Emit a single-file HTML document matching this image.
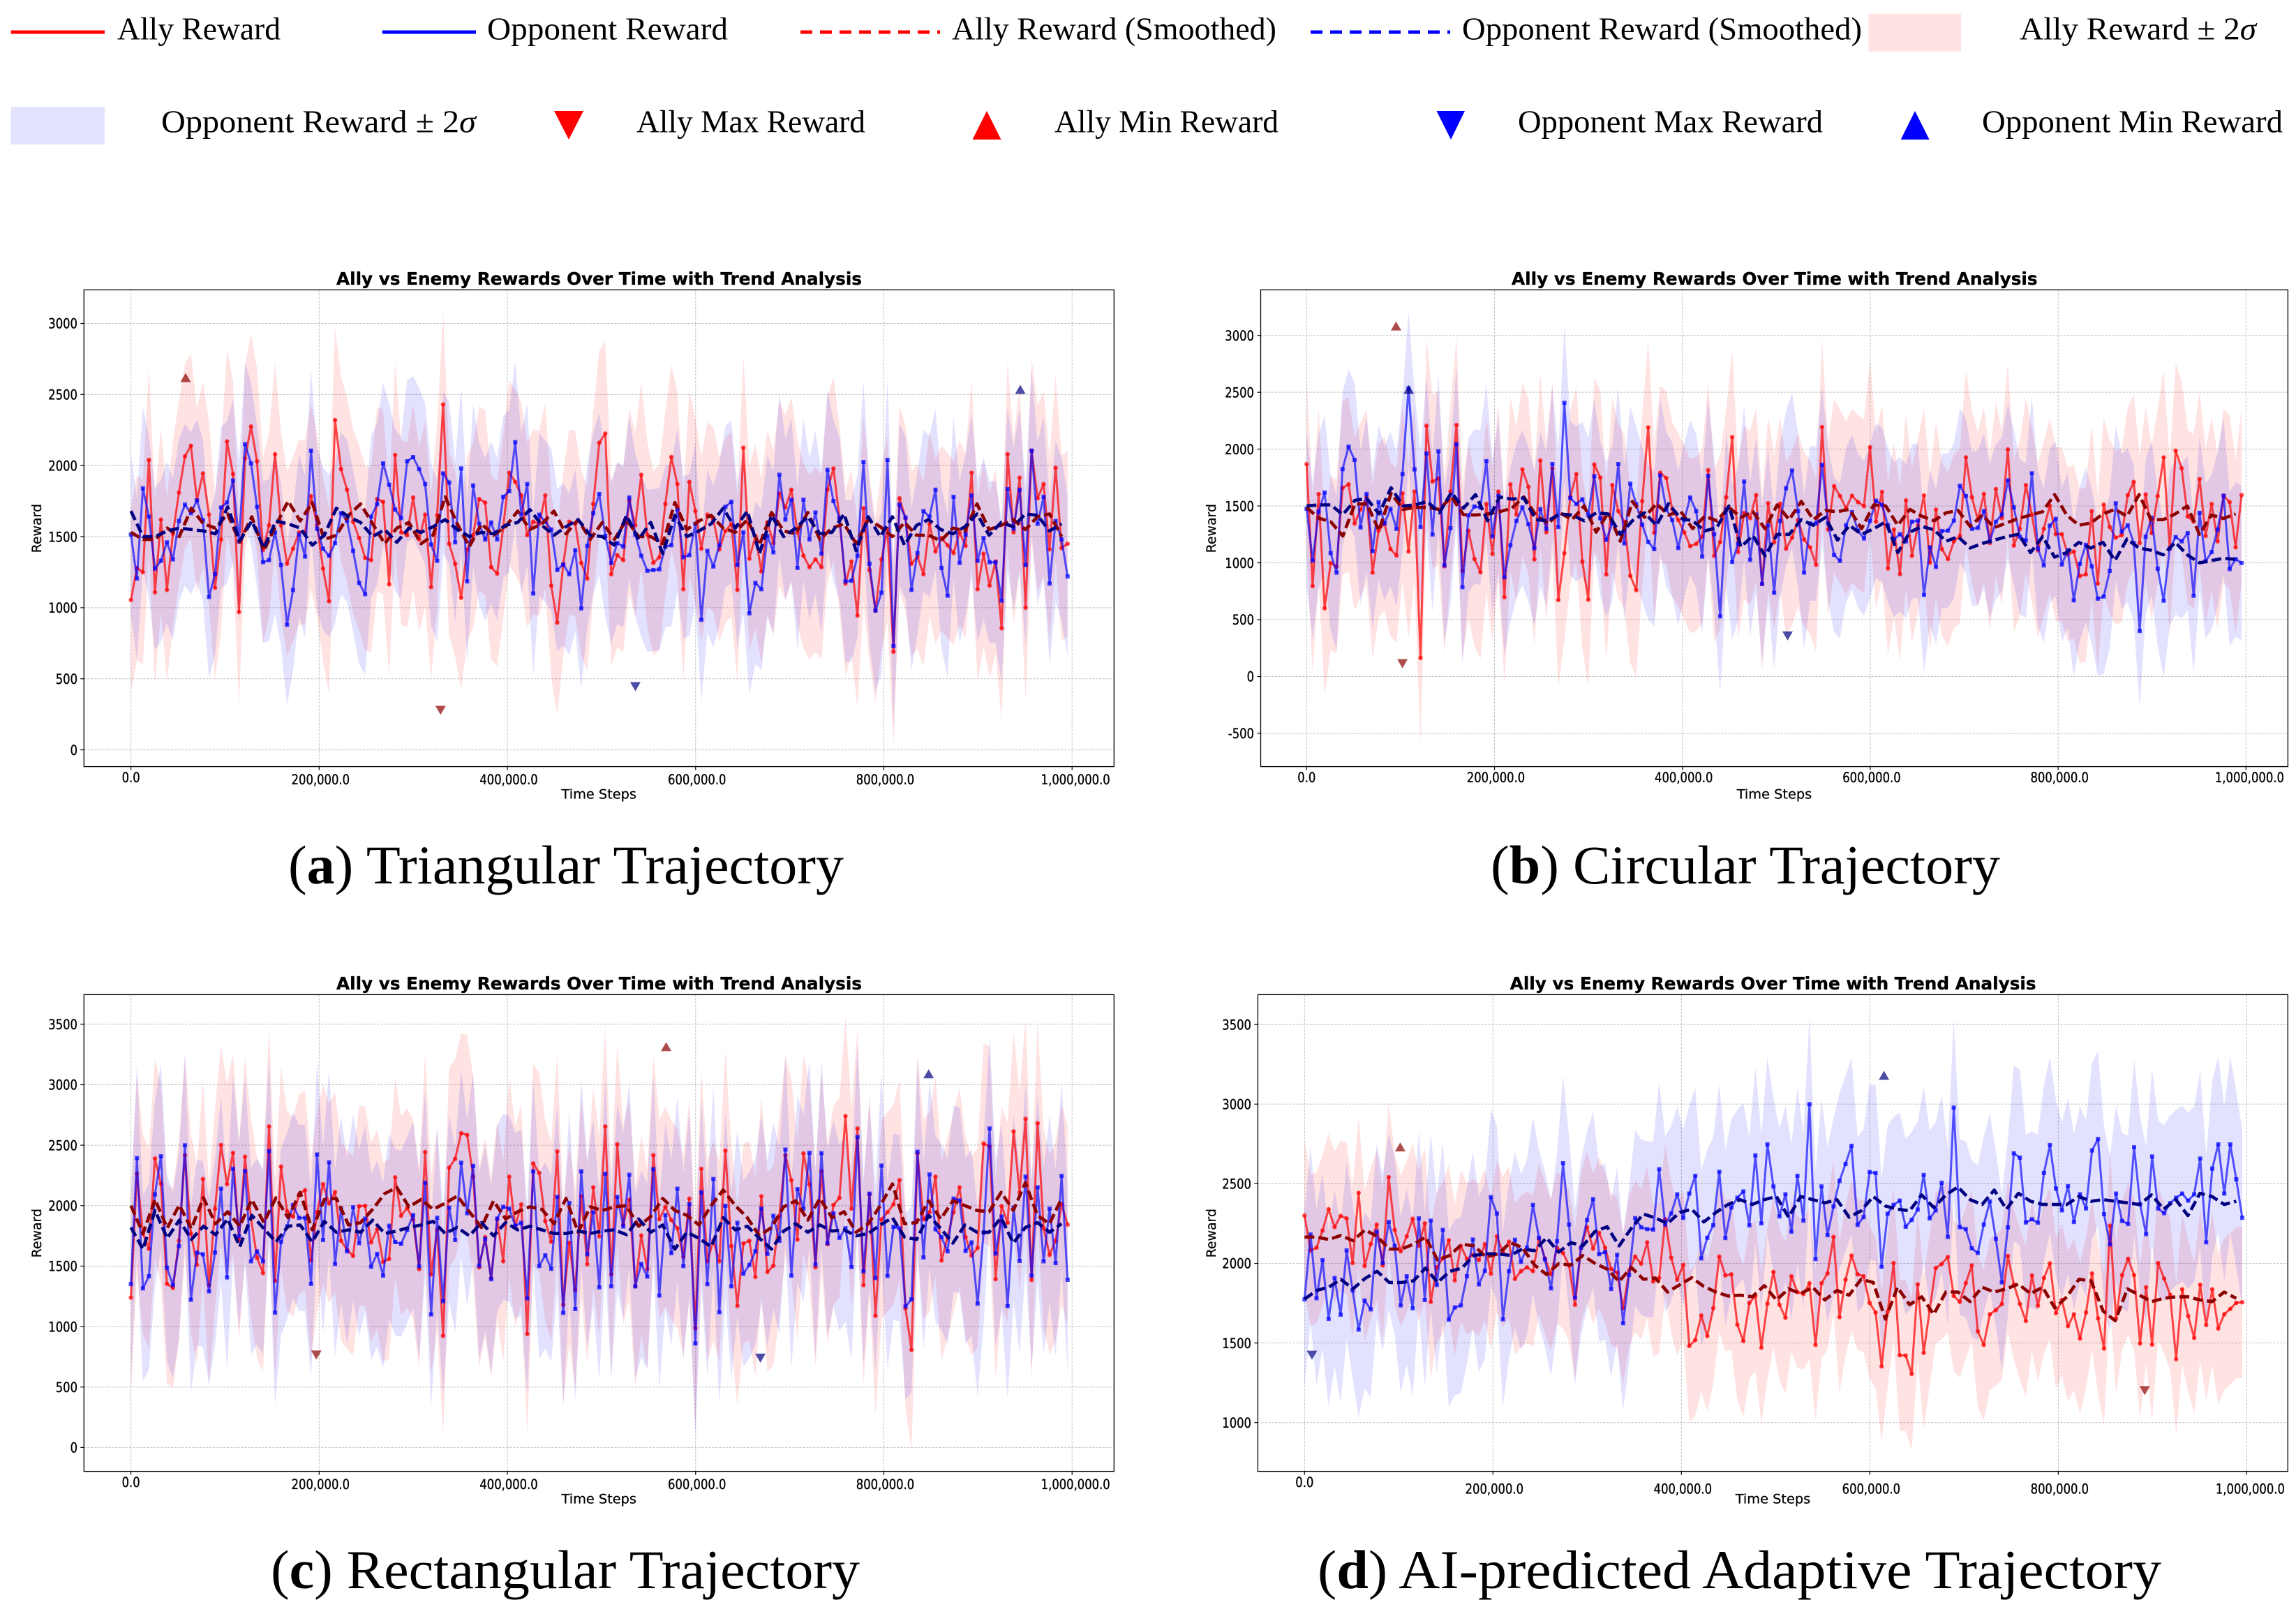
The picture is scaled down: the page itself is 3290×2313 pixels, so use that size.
<!DOCTYPE html>
<html lang="en">
<head>
<meta charset="utf-8">
<title>Ally vs Enemy Rewards Over Time with Trend Analysis</title>
<style>
html,body{margin:0;padding:0;background:#fff;width:3290px;height:2313px;overflow:hidden}
svg{display:block}
.lg{font-family:"Liberation Serif",serif;font-size:45px;fill:#000}
.cap{font-family:"Liberation Serif",serif;font-size:78px;fill:#000}
.ttl{font-family:"DejaVu Sans",sans-serif;font-weight:bold;font-size:21px;fill:#000;stroke:#000;stroke-width:.3px}
.axl{font-family:"DejaVu Sans",sans-serif;font-size:19px;fill:#000;stroke:#000;stroke-width:.25px}
.tk{font-family:"DejaVu Sans",sans-serif;font-size:16.4px;fill:#000;stroke:#000;stroke-width:.3px}
</style>
</head>
<body>
<svg id="figure" xmlns="http://www.w3.org/2000/svg" width="3290" height="2313" viewBox="0 0 3290 2313">
<rect x="0" y="0" width="3290" height="2313" fill="#fff"/>
<g>
<line x1="15.7" y1="46" x2="150" y2="46" stroke="#f00" stroke-width="5"/>
<text class="lg" x="168" y="56.7" textLength="234" lengthAdjust="spacingAndGlyphs">Ally Reward</text>
<line x1="547.7" y1="46" x2="682" y2="46" stroke="#00f" stroke-width="5"/>
<text class="lg" x="698" y="56.7" textLength="345" lengthAdjust="spacingAndGlyphs">Opponent Reward</text>
<line x1="1147" y1="46" x2="1347" y2="46" stroke="#f00" stroke-width="5" stroke-dasharray="17 11"/>
<text class="lg" x="1364" y="56.7" textLength="465" lengthAdjust="spacingAndGlyphs">Ally Reward (Smoothed)</text>
<line x1="1878" y1="46" x2="2078" y2="46" stroke="#00f" stroke-width="5" stroke-dasharray="17 11"/>
<text class="lg" x="2095" y="56.7" textLength="573" lengthAdjust="spacingAndGlyphs">Opponent Reward (Smoothed)</text>
<rect x="2677.5" y="20" width="132.5" height="53.7" fill="#ffe2e2"/>
<text class="lg" x="2894" y="56.7" textLength="339" lengthAdjust="spacingAndGlyphs">Ally Reward ± 2<tspan font-style="italic">σ</tspan></text>
<rect x="15.7" y="153" width="134.3" height="54" fill="#e3e3fe"/>
<text class="lg" x="231" y="189.5" textLength="451" lengthAdjust="spacingAndGlyphs">Opponent Reward ± 2<tspan font-style="italic">σ</tspan></text>
<polygon points="794,159 836,159 815,200" fill="#f00"/>
<text class="lg" x="912" y="189.5" textLength="328" lengthAdjust="spacingAndGlyphs">Ally Max Reward</text>
<polygon points="1393.5,200 1434.5,200 1414,159" fill="#f00"/>
<text class="lg" x="1511" y="189.5" textLength="321" lengthAdjust="spacingAndGlyphs">Ally Min Reward</text>
<polygon points="2058.5,159 2099,159 2079,200" fill="#00f"/>
<text class="lg" x="2175" y="189.5" textLength="437" lengthAdjust="spacingAndGlyphs">Opponent Max Reward</text>
<polygon points="2723.7,200 2764.6,200 2744,159" fill="#00f"/>
<text class="lg" x="2840" y="189.5" textLength="431" lengthAdjust="spacingAndGlyphs">Opponent Min Reward</text>
</g>

<g id="panel-a">
<text class="ttl" transform="translate(482,408) scale(1,1.18)" textLength="753" lengthAdjust="spacingAndGlyphs">Ally vs Enemy Rewards Over Time with Trend Analysis</text>
<text class="axl" transform="translate(804.5,1144.5)" textLength="107.5" lengthAdjust="spacingAndGlyphs">Time Steps</text>
<text class="axl" transform="translate(59,792.4) rotate(-90)" textLength="70.4" lengthAdjust="spacingAndGlyphs">Reward</text>
</g>
<g id="panel-b">
<text class="ttl" transform="translate(2166,408) scale(1,1.18)" textLength="753.6" lengthAdjust="spacingAndGlyphs">Ally vs Enemy Rewards Over Time with Trend Analysis</text>
<text class="axl" transform="translate(2488.7,1144.5)" textLength="107.5" lengthAdjust="spacingAndGlyphs">Time Steps</text>
<text class="axl" transform="translate(1742,792.4) rotate(-90)" textLength="70.4" lengthAdjust="spacingAndGlyphs">Reward</text>
</g>
<g id="panel-c">
<text class="ttl" transform="translate(482,1418) scale(1,1.18)" textLength="753" lengthAdjust="spacingAndGlyphs">Ally vs Enemy Rewards Over Time with Trend Analysis</text>
<text class="axl" transform="translate(804.5,2154.5)" textLength="107.5" lengthAdjust="spacingAndGlyphs">Time Steps</text>
<text class="axl" transform="translate(59,1802.4) rotate(-90)" textLength="70.4" lengthAdjust="spacingAndGlyphs">Reward</text>
</g>
<g id="panel-d">
<text class="ttl" transform="translate(2163.7,1418) scale(1,1.18)" textLength="753.9" lengthAdjust="spacingAndGlyphs">Ally vs Enemy Rewards Over Time with Trend Analysis</text>
<text class="axl" transform="translate(2486.7,2154.5)" textLength="107.5" lengthAdjust="spacingAndGlyphs">Time Steps</text>
<text class="axl" transform="translate(1742,1802.4) rotate(-90)" textLength="70.4" lengthAdjust="spacingAndGlyphs">Reward</text>
</g>

<text class="cap" x="413" y="1266" textLength="796" lengthAdjust="spacingAndGlyphs">(<tspan font-weight="bold">a</tspan>) Triangular Trajectory</text>
<text class="cap" x="2136" y="1266" textLength="730" lengthAdjust="spacingAndGlyphs">(<tspan font-weight="bold">b</tspan>) Circular Trajectory</text>
<text class="cap" x="388" y="2276" textLength="844" lengthAdjust="spacingAndGlyphs">(<tspan font-weight="bold">c</tspan>) Rectangular Trajectory</text>
<text class="cap" x="1888" y="2276" textLength="1209" lengthAdjust="spacingAndGlyphs">(<tspan font-weight="bold">d</tspan>) AI-predicted Adaptive Trajectory</text>
</svg>

<script>
// ---------- shared axis data ----------
const stepInterval = 6380;
const xTicks = [0, 200000, 400000, 600000, 800000, 1000000];
const xTickLabels = ['0.0', '200,000.0', '400,000.0', '600,000.0', '800,000.0', '1,000,000.0'];

// ---------- panel (a) Triangular ----------
const panelA_yTicks = [0, 500, 1000, 1500, 2000, 2500, 3000];
const panelA_ally = [
1054,1280,1250,2040,1108,1620,1125,1520,1810,2065,
2140,1755,1945,1655,1140,1480,2170,1940,970,2050,
2275,2030,1405,1580,2080,1580,1310,1415,1530,1530,
1785,1580,1275,1045,2320,1975,1830,1605,1490,1350,
1335,1765,1745,1165,2075,1530,1510,1775,1480,1655,
1145,1650,2430,1450,1310,1070,1410,1510,1765,1740,
1285,1240,1565,1950,1885,1790,1510,1605,1590,1790,
1155,895,1305,1605,1590,1315,1205,1730,2160,2225,
1235,1370,1335,1755,1580,1935,1515,1315,1355,1730,
2060,1870,1130,1885,1680,1415,1655,1620,1410,1540,
1590,1125,2125,1345,1505,1255,1600,1455,1805,1705,
1830,1530,1365,1285,1340,1285,1830,1980,1630,1170,
1325,945,1700,1265,980,1340,1555,690,1770,1630,
1310,1360,1235,1590,1395,1490,1440,1385,1530,1435,
1950,1130,1380,1155,1325,855,2080,1530,1915,1000,
2105,1770,1870,1410,1985,1420,1450];
const panelA_opp = [
1515,1205,1840,1640,1275,1330,1460,1340,1610,1725,
1665,1755,1615,1075,1235,1705,1740,1895,1465,2150,
2015,1710,1320,1335,1530,1300,880,1125,1515,1360,
2105,1555,1415,1365,1455,1665,1610,1400,1175,1095,
1640,1730,2015,1865,1690,1630,2030,2060,1975,1870,
1445,1330,1945,1880,1460,1980,1185,1860,1590,1480,
1600,1480,1780,1820,2165,1655,1870,1100,1655,1605,
1550,1265,1305,1235,1405,995,1435,1665,1800,1505,
1315,1455,1430,1775,1515,1365,1260,1265,1270,1430,
1440,1690,1355,1370,1590,915,1400,1290,1440,1710,
1745,1300,1530,960,1175,1130,1505,1390,1935,1620,
1760,1280,1760,1480,1670,1380,1970,1750,1630,1185,
1190,1365,2025,1310,980,1105,2040,730,1725,1635,
1125,1385,1680,1640,1830,1280,1085,1780,1315,1515,
1790,1330,1490,1320,1320,1050,1835,1555,1830,1300,
2105,1590,1780,1170,1610,1480,1220];
const panelA_allySmooth = [
1530,1480,1480,1560,1500,1700,1590,1560,1660,1460,1640,1400,1580,1750,1610,1740,1480,1510,1650,1730,
1590,1450,1560,1600,1450,1510,1780,1590,1430,1590,1510,1570,1680,1550,1590,1680,1520,1620,1480,1600,
1480,1620,1500,1500,1450,1740,1550,1610,1650,1560,1530,1620,1440,1670,1540,1520,1670,1480,1560,1590,
1450,1620,1570,1500,1600,1510,1510,1470,1560,1540,1730,1550,1580,1620,1550,1640,1660,1500];
const panelA_oppSmooth = [
1680,1500,1500,1540,1560,1550,1540,1520,1710,1470,1610,1420,1610,1590,1560,1440,1510,1700,1640,1600,
1500,1550,1460,1560,1530,1570,1620,1550,1500,1530,1520,1580,1600,1690,1580,1510,1570,1620,1510,1500,
1440,1650,1480,1600,1380,1650,1500,1540,1590,1700,1560,1680,1380,1650,1500,1560,1640,1520,1530,1660,
1400,1640,1500,1640,1440,1580,1620,1550,1520,1570,1660,1510,1600,1570,1660,1650,1540,1590];
const panelA_allyTwoSigma = 650;
const panelA_oppTwoSigma = 570;
const panelA_allyHigh = [58100, 2619];
const panelA_allyLow = [329000, 278];
const panelA_oppHigh = [945000, 2536];
const panelA_oppLow = [536000, 445];

// ---------- panel (b) Circular ----------
const panelB_yTicks = [-500, 0, 500, 1000, 1500, 2000, 2500, 3000];
const panelB_ally = [
1868,795,1605,600,998,967,1659,1690,1345,1470,
1580,914,1283,1345,1120,1064,1612,1100,1627,163,
2206,1715,1743,970,1627,2212,930,1283,1033,917,
1518,1077,1627,698,1690,1424,1822,1668,1030,1900,
1268,1831,673,1083,1581,1781,1011,676,1865,1750,
898,1684,1455,1361,886,760,1543,2191,1264,1793,
1746,1471,1377,1268,1146,1167,1230,1815,1061,1183,
1577,2106,1095,1440,1393,1596,814,1524,1180,1521,
1124,1221,1377,1205,1136,983,2194,1293,1675,1587,
1480,1590,1534,1499,2016,1362,1624,951,1293,901,
1549,1061,1330,1593,1002,1468,1120,1033,1189,1236,
1928,1577,1377,1606,1174,1649,1393,1997,1152,1299,
1684,1424,1111,1299,1502,1252,1252,1074,1099,883,
898,1455,817,1512,1315,1221,1243,1596,1712,1174,
1602,1261,1587,1928,1127,1987,1831,1408,1362,1737,
1236,1518,1189,1590,1534,1136,1596];
const panelB_opp = [
1477,1020,1449,1618,1086,914,1825,2022,1906,1311,
1606,1102,1534,1346,1474,1299,1781,2535,1822,1315,
1963,1249,1981,977,1305,2044,786,1418,1496,1487,
1894,1233,1590,873,1155,1368,1487,1340,1130,1471,
1299,1869,1315,2407,1568,1518,1559,1424,1762,1393,
1202,1346,1869,1171,1696,1515,1336,1183,1120,1768,
1471,1377,1130,1377,1574,1455,1055,1765,1252,529,
1471,1008,1167,1715,1027,1424,814,1330,736,1368,
1656,1812,1455,914,1346,1346,1862,1346,1070,1017,
1330,1446,1283,1214,1368,1546,1509,1330,1205,1252,
1189,1362,1371,717,1136,964,1280,1283,1371,1678,
1587,1299,1308,1455,1189,1362,1424,1725,1487,1230,
1196,1787,1127,977,1327,1387,986,1111,670,992,
1158,970,685,704,930,1524,1274,1330,1174,401,
1230,1396,948,667,1127,1227,1189,1261,711,1440,
1014,1095,1293,1590,945,1033,998];
const panelB_allySmooth = [
1487,1393,1361,1236,1518,1518,1283,1612,1470,1487,1487,1470,1580,1424,1420,1430,1450,1480,1580,1420,
1346,1440,1380,1500,1270,1440,1190,1540,1400,1520,1420,1455,1300,1410,1370,1487,1400,1450,1299,1510,
1380,1540,1380,1460,1450,1470,1300,1510,1500,1330,1470,1410,1370,1440,1460,1320,1420,1310,1350,1390,
1420,1450,1600,1420,1330,1350,1430,1470,1410,1600,1380,1380,1430,1500,1250,1420,1390,1430];
const panelB_oppSmooth = [
1500,1510,1510,1424,1550,1565,1430,1660,1500,1510,1540,1440,1620,1480,1600,1370,1580,1560,1570,1380,
1370,1430,1420,1370,1440,1430,1250,1370,1440,1330,1520,1390,1370,1280,1310,1500,1140,1240,1060,1250,
1250,1380,1330,1400,1200,1330,1250,1300,1360,1090,1270,1320,1290,1190,1230,1130,1170,1200,1230,1250,
1090,1230,1050,1090,1180,1130,1180,1020,1210,1130,1110,1070,1180,1070,1000,1020,1040,1030];
const panelB_allyTwoSigma = 765;
const panelB_oppTwoSigma = 680;
const panelB_allyHigh = [95200, 3083];
const panelB_allyLow = [102000, 113];
const panelB_oppHigh = [108800, 2526];
const panelB_oppLow = [512000, 357];

// ---------- panel (c) Rectangular ----------
const panelC_yTicks = [0, 500, 1000, 1500, 2000, 2500, 3000, 3500];
const panelC_ally = [
1239,2264,1769,1643,2390,2181,1354,1319,1710,2417,
1769,1510,2220,1342,1975,2502,2178,2437,1716,2405,
1893,1569,1442,2655,1378,2323,1955,1908,2093,2128,
1548,1946,2178,2019,2113,1710,1637,1584,1996,1999,
1696,1805,1534,1560,2234,1916,1981,1887,1475,2443,
1431,1799,924,2314,2387,2599,2585,2240,1490,1740,
1401,1887,1540,2240,1828,2011,939,2349,2270,1872,
1701,2449,1180,1693,1304,2078,1516,2152,1746,2655,
1431,2508,1843,2049,1333,1754,1475,2417,1887,1990,
1881,1813,1578,2058,986,2305,1540,1710,1540,2455,
1666,1172,1687,1710,1410,2078,1451,1504,1916,2417,
2211,1719,2432,2175,1490,2284,1681,2005,2064,2741,
1975,2638,1342,2093,1089,1887,1946,2011,2211,1151,
807,2432,1887,1946,2240,1546,1740,1946,2152,1740,
1587,1651,2514,2490,1392,1996,1858,2614,2108,2717,
1386,2682,1813,1593,1710,2011,1843];
const panelC_opp = [
1351,2393,1316,1416,2093,2408,1487,1342,1666,2499,
1222,1613,1598,1292,1613,2140,1407,2305,1746,2287,
1540,1622,1540,2452,1116,1701,1828,2005,1899,1899,
1354,2423,1716,2358,1519,1975,1622,1987,1690,1893,
1495,1601,1422,1834,1699,1684,1799,1922,1498,2190,
1101,1899,1210,1984,1716,2355,1937,2329,1504,1725,
1392,1893,1990,1975,1834,1858,1233,2284,1501,1590,
1478,2072,1113,2022,1145,2284,1598,1946,1325,2264,
1333,2072,1828,2255,1333,1519,1413,2302,1257,1922,
1607,2140,1501,2013,860,2111,1351,2220,1119,1999,
1333,1858,1437,1510,1622,1975,1601,1916,1710,2464,
1422,2137,1975,2437,1513,2434,1690,1937,1734,1813,
1492,2567,1457,2099,1401,2331,1419,1825,1813,1166,
1225,2446,1572,2258,1805,1740,1622,2058,2043,1625,
1696,1189,1778,2638,1604,1910,1169,1984,1543,2240,
1422,2152,1540,1975,1525,2246,1387];
const panelC_allySmooth = [
2000,1770,2050,1815,2005,1810,2065,1850,1950,1830,2050,1860,2065,1900,2110,1800,2050,2060,1840,1860,
1970,2100,2150,1990,2050,1970,2020,2080,1950,1820,2040,1890,1950,1990,1970,1850,2060,1780,1990,1960,
1990,2000,1830,1910,2060,1960,1920,1840,2000,2130,2000,1900,1750,1820,1990,2040,1880,2060,1900,1950,
1780,1850,2000,2180,1850,1860,2040,1890,2040,2000,1960,1950,2110,1960,2190,1920,1850,2060];
const panelC_oppSmooth = [
1820,1640,1960,1730,1880,1720,1830,1760,1890,1660,1920,1810,1700,1830,1840,1700,1870,1780,1800,1780,
1880,1770,1790,1820,1840,1870,1770,1820,1750,1860,1750,1860,1800,1830,1800,1770,1770,1790,1770,1790,
1800,1760,1890,1780,1840,1640,1780,1730,1660,1900,1800,1830,1730,1640,1790,1850,1780,1840,1790,1800,
1750,1770,1840,1900,1740,1720,1920,1810,1690,1840,1780,1780,1900,1690,1820,1860,1780,1850];
const panelC_allyTwoSigma = 825;
const panelC_oppTwoSigma = 770;
const panelC_allyHigh = [568700, 3315];
const panelC_allyLow = [197000, 765];
const panelC_oppHigh = [847600, 3091];
const panelC_oppLow = [668800, 739];

// ---------- panel (d) AI-predicted Adaptive ----------
const panelD_yTicks = [1000, 1500, 2000, 2500, 3000, 3500];
const panelD_ally = [
2300,2081,2098,2206,2340,2228,2298,2282,2002,2443,
1984,2121,2244,1987,2541,2210,2076,2170,2280,2110,
2251,1758,1975,2031,2145,1893,2110,2027,2054,2020,
2121,1935,2170,2072,2136,1902,1951,1975,1951,2154,
2031,1931,2098,2065,1987,1740,2098,2228,2092,2192,
2098,1964,1942,1718,1953,2043,1998,2132,1886,1908,
2277,2036,1897,1991,1481,1519,1673,1544,1718,2043,
1924,1931,1615,1512,1752,1796,1470,1747,1946,1740,
1658,1919,1819,1808,1875,1488,1875,1937,2166,1662,
1897,2049,1931,1919,1752,1691,1353,1696,2002,1423,
1421,1306,1868,1438,1707,1971,1996,2040,1796,1758,
1875,1987,1573,1488,1680,1707,1745,2047,1868,1745,
1638,1924,1734,1908,2000,1687,1770,1606,1680,1528,
1691,1937,1655,1465,2237,1655,1926,2029,1926,1497,
1850,1490,2002,1904,1803,1398,1837,1669,1532,1866,
1613,1837,1591,1680,1714,1752,1756];
const panelD_opp = [
1774,2181,1781,2020,1651,1908,1678,2081,1830,1584,
1767,1711,2199,2002,2260,2110,1736,1919,1718,2282,
1770,2268,1864,2210,1647,1723,1736,1919,2150,1868,
1953,2416,2313,1649,1951,2148,2009,2098,2367,2161,
2025,1843,2139,2629,2244,1785,2098,2273,2403,2058,
2072,1839,2054,1624,1928,2284,2226,2215,2212,2591,
2244,2313,2434,2286,2438,2550,2031,2161,2239,2575,
2159,2351,2412,2452,2239,2678,2251,2747,2483,2295,
2434,2199,2550,2268,3000,2027,2483,2177,2358,2519,
2624,2738,2242,2291,2573,2568,1978,2311,2367,2394,
2230,2273,2338,2555,2282,2333,2506,2166,2978,2228,
2215,2094,2065,2244,2389,2154,1881,2226,2691,2664,
2257,2277,2255,2568,2743,2470,2333,2485,2260,2434,
2345,2709,2781,2309,2119,2438,2266,2248,2729,2371,
2183,2671,2345,2315,2378,2412,2438,2394,2434,2658,
2132,2595,2747,2438,2747,2528,2286];
const panelD_allySmooth = [
2165,2165,2150,2175,2143,2210,2170,2090,2090,2120,2165,2020,2050,2120,2110,2040,2060,2130,2100,1990,
1930,1998,1990,2049,2000,1964,1886,1975,1900,1908,1820,1865,1910,1855,1820,1795,1800,1790,1860,1770,
1840,1810,1850,1770,1830,1800,1900,1880,1650,1850,1740,1790,1680,1820,1820,1760,1850,1820,1840,1870,
1810,1850,1720,1790,1900,1890,1700,1640,1840,1800,1760,1780,1790,1790,1770,1760,1820,1780];
const panelD_oppSmooth = [
1775,1830,1850,1900,1840,1905,1950,1880,1880,1890,1970,1880,1950,1970,2050,2060,2060,2050,2090,2080,
2160,2070,2130,2110,2200,2230,2110,2220,2310,2285,2250,2320,2340,2260,2320,2370,2400,2370,2400,2420,
2290,2420,2400,2380,2400,2290,2330,2420,2360,2340,2330,2430,2350,2430,2480,2400,2370,2460,2340,2440,
2390,2370,2370,2370,2420,2390,2400,2390,2380,2370,2430,2340,2400,2300,2440,2420,2370,2390];
const panelD_allyTwoSigma = 475;
const panelD_oppTwoSigma = 552;
const panelD_allyHigh = [101600, 2731];
const panelD_allyLow = [891800, 1201];
const panelD_oppHigh = [615000, 3181];
const panelD_oppLow = [7900, 1423];

// ---------- axis calibration for each plot frame ----------
const frames = {
  a: {id:'panel-a', left:120.3, right:1596.3, top:415.4, bottom:1098.6, x0:187.6, x1M:1536.2, vA:0, yA:1074.6, scale:0.2037, labelRight:111, xBase:1124, zeroBase:1121},
  b: {id:'panel-b', left:1806.5, right:3278.4, top:415.4, bottom:1098.6, x0:1872.3, x1M:3218.4, vA:0, yA:969.5, scale:0.16293, labelRight:1797, xBase:1121, zeroBase:1121},
  c: {id:'panel-c', left:120.3, right:1596.3, top:1425.4, bottom:2108.6, x0:187.6, x1M:1536.2, vA:0, yA:2074.4, scale:0.1733, labelRight:111, xBase:2134, zeroBase:2131},
  d: {id:'panel-d', left:1802.4, right:3278.3, top:1425.4, bottom:2108.6, x0:1869.3, x1M:3219.4, vA:1000, yA:2038.7, scale:0.2282, labelRight:1793, xBase:2140.7, zeroBase:2131}
};

const NS = 'http://www.w3.org/2000/svg';
function mk(parent, tag, attrs) {
  const el = document.createElementNS(NS, tag);
  for (const k in attrs) el.setAttribute(k, attrs[k]);
  parent.appendChild(el);
  return el;
}

function drawPanel(f, yTicks, ally, opp, allySmooth, oppSmooth, allySigma, oppSigma, allyHigh, allyLow, oppHigh, oppLow) {
  const root = document.getElementById(f.id);
  const plot = mk(root, 'g', {});
  
  
  const xScale = s => f.x0 + s / 1e6 * (f.x1M - f.x0);
  const yScale = v => f.yA - (v - f.vA) * f.scale;

  // grid + ticks + tick labels
  xTicks.forEach((t, i) => {
    const x = xScale(t);
    const g = mk(plot, 'line', {x1:x, x2:x, y1:f.top, y2:f.bottom, stroke:'#bdbdbd', 'stroke-width':1, 'stroke-dasharray':'3 2'});
    
    
    const tick = mk(plot, 'line', {x1:x, x2:x, y1:f.bottom, y2:f.bottom + 5, stroke:'#000', 'stroke-width':1.2});
    
    
    const off = i === 0 ? 0 : (i === xTicks.length - 1 ? 5 : 2);
    const base = i === 0 ? f.zeroBase : f.xBase;
    const lab = mk(plot, 'text', {class:'tk', 'text-anchor':'middle', transform:'translate(' + (x + off) + ',' + base + ') scale(1,1.18)'});
    lab.textContent = xTickLabels[i];
    
    
  });
  yTicks.forEach(t => {
    const y = yScale(t);
    const g = mk(plot, 'line', {x1:f.left, x2:f.right, y1:y, y2:y, stroke:'#bdbdbd', 'stroke-width':1, 'stroke-dasharray':'3 2'});
    
    
    const tick = mk(plot, 'line', {x1:f.left - 5, x2:f.left, y1:y, y2:y, stroke:'#000', 'stroke-width':1.2});
    
    
    const lab = mk(plot, 'text', {class:'tk', 'text-anchor':'end', transform:'translate(' + f.labelRight + ',' + (y + 7.2) + ') scale(1,1.18)'});
    lab.textContent = String(t);
    
    
  });

  // +-2 sigma bands
  const bandPts = (vals, s) => {
    const up = vals.map((v, i) => xScale(i * stepInterval).toFixed(1) + ',' + yScale(v + s).toFixed(1));
    const dn = vals.map((v, i) => xScale(i * stepInterval).toFixed(1) + ',' + yScale(v - s).toFixed(1)).reverse();
    return up.concat(dn).join(' ');
  };
  const allyBand = mk(plot, 'polygon', {points:bandPts(ally, allySigma), fill:'#f00', 'fill-opacity':0.114});
  
  
  const oppBand = mk(plot, 'polygon', {points:bandPts(opp, oppSigma), fill:'#00f', 'fill-opacity':0.114});
  
  

  // raw series
  const rawPath = vals => vals.map((v, i) => (i ? 'L' : 'M') + xScale(i * stepInterval).toFixed(1) + ' ' + yScale(v).toFixed(1)).join('');
  const allyLine = mk(plot, 'path', {d:rawPath(ally), fill:'none', stroke:'#f00', 'stroke-opacity':0.7, 'stroke-width':3, 'stroke-linejoin':'round'});
  
  
  ally.forEach((v, i) => {
    const c = mk(plot, 'circle', {cx:xScale(i * stepInterval).toFixed(1), cy:yScale(v).toFixed(1), r:3.2, fill:'#f00', 'fill-opacity':0.7});
    
    
  });
  const oppLine = mk(plot, 'path', {d:rawPath(opp), fill:'none', stroke:'#00f', 'stroke-opacity':0.65, 'stroke-width':3, 'stroke-linejoin':'round'});
  
  
  opp.forEach((v, i) => {
    const r = mk(plot, 'rect', {x:(xScale(i * stepInterval) - 3).toFixed(1), y:(yScale(v) - 3).toFixed(1), width:6, height:6, fill:'#00f', 'fill-opacity':0.7});
    
    
  });

  // smoothed series (sampled every other step; last sample one step short of the raw end)
  const smoothEnd = 155 * stepInterval;
  const smoothPath = vals => vals.map((v, j) => (j ? 'L' : 'M') + xScale(j * smoothEnd / (vals.length - 1)).toFixed(1) + ' ' + yScale(v).toFixed(1)).join('');
  const allySm = mk(plot, 'path', {d:smoothPath(allySmooth), fill:'none', stroke:'#8b0000', 'stroke-width':4.6, 'stroke-dasharray':'14 6', 'stroke-linejoin':'round'});
  
  
  const oppSm = mk(plot, 'path', {d:smoothPath(oppSmooth), fill:'none', stroke:'#000080', 'stroke-width':4.6, 'stroke-dasharray':'14 6', 'stroke-linejoin':'round'});
  
  

  // extreme-value triangles
  const tri = (p, up, color) => {
    const x = xScale(p[0]), y = yScale(p[1]);
    const pts = up
      ? (x - 7.5) + ',' + (y + 6.5) + ' ' + (x + 7.5) + ',' + (y + 6.5) + ' ' + x + ',' + (y - 6.5)
      : (x - 7.5) + ',' + (y - 6.5) + ' ' + (x + 7.5) + ',' + (y - 6.5) + ' ' + x + ',' + (y + 6.5);
    return mk(plot, 'polygon', {points:pts, fill:color, 'fill-opacity':0.7});
  };
  const m1 = tri(allyHigh, true, '#8b0000');
  
  
  const m2 = tri(allyLow, false, '#8b0000');
  
  
  const m3 = tri(oppHigh, true, '#000080');
  
  
  const m4 = tri(oppLow, false, '#000080');
  
  

  // frame
  const frame = mk(plot, 'rect', {x:f.left, y:f.top, width:f.right - f.left, height:f.bottom - f.top, fill:'none', stroke:'#000', 'stroke-width':1.3});
  
  
}

drawPanel(frames.a, panelA_yTicks, panelA_ally, panelA_opp, panelA_allySmooth, panelA_oppSmooth, panelA_allyTwoSigma, panelA_oppTwoSigma, panelA_allyHigh, panelA_allyLow, panelA_oppHigh, panelA_oppLow);
drawPanel(frames.b, panelB_yTicks, panelB_ally, panelB_opp, panelB_allySmooth, panelB_oppSmooth, panelB_allyTwoSigma, panelB_oppTwoSigma, panelB_allyHigh, panelB_allyLow, panelB_oppHigh, panelB_oppLow);
drawPanel(frames.c, panelC_yTicks, panelC_ally, panelC_opp, panelC_allySmooth, panelC_oppSmooth, panelC_allyTwoSigma, panelC_oppTwoSigma, panelC_allyHigh, panelC_allyLow, panelC_oppHigh, panelC_oppLow);
drawPanel(frames.d, panelD_yTicks, panelD_ally, panelD_opp, panelD_allySmooth, panelD_oppSmooth, panelD_allyTwoSigma, panelD_oppTwoSigma, panelD_allyHigh, panelD_allyLow, panelD_oppHigh, panelD_oppLow);
</script>
</body>
</html>
